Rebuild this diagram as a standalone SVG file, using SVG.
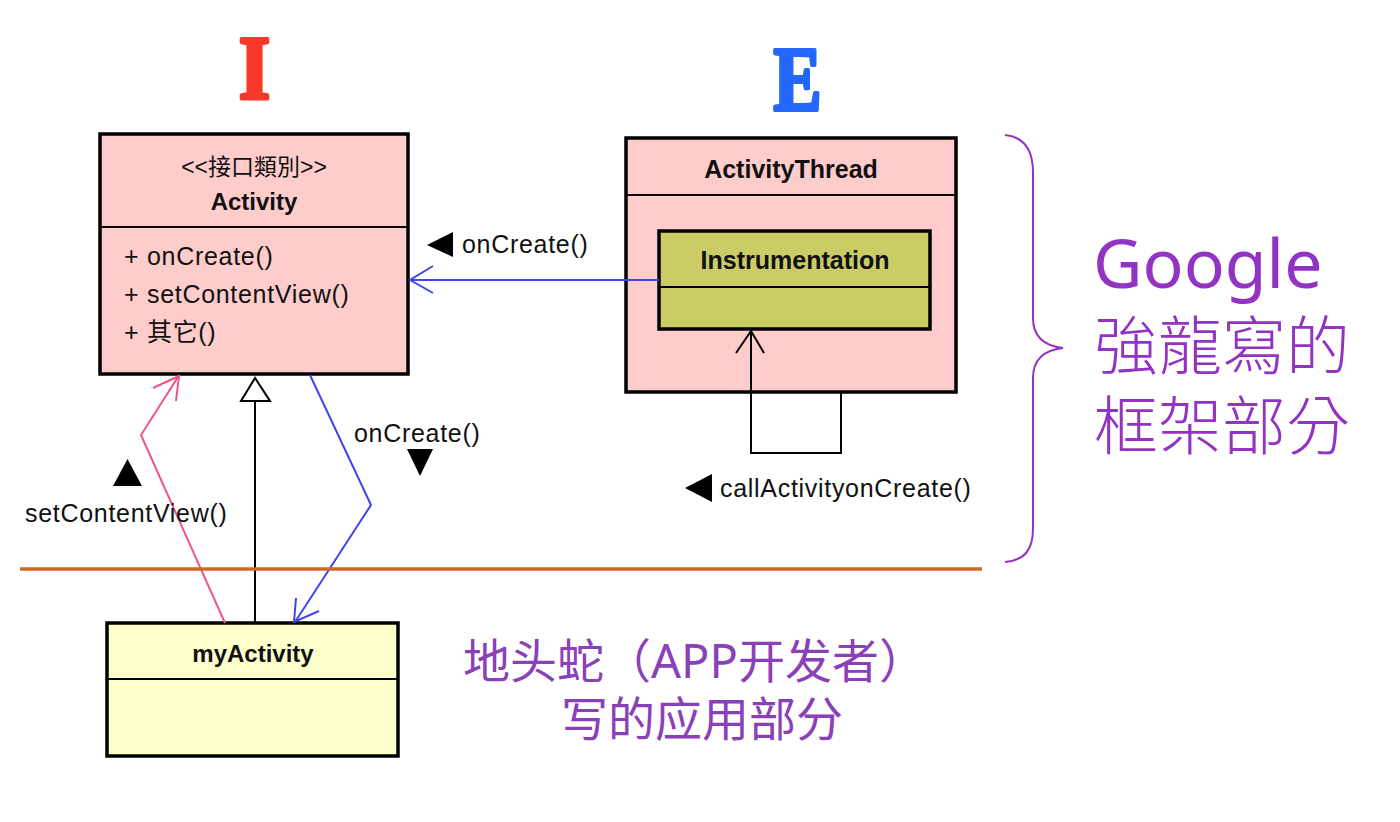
<svg xmlns="http://www.w3.org/2000/svg" width="1400" height="822" viewBox="0 0 1400 822">
<style>
.box{stroke:#000;stroke-width:3.5}
.div{stroke:#000;stroke-width:2}
.t{font-family:"Liberation Sans",Arial,"Noto Sans CJK TC",sans-serif;font-size:25px;letter-spacing:0.7px;fill:#111}
.b{font-family:"Liberation Sans",Arial,sans-serif;font-size:24px;font-weight:bold;fill:#111;text-anchor:middle}
.purple{font-family:"Noto Sans","Noto Sans CJK TC",sans-serif;fill:#9233C4;font-weight:300}
.purple2{font-family:"Noto Sans","Noto Sans CJK SC",sans-serif;fill:#8A40B8}
.big{font-family:"Liberation Serif",serif;font-weight:bold;font-size:90px;stroke-width:4;stroke-linejoin:round}
</style>

<g id="label-I"><text class="big" transform="translate(254.5,99) scale(0.9,1)" x="0" y="0" text-anchor="middle" fill="#F8392A" stroke="#F8392A">I</text></g>
<g id="label-E"><text class="big" transform="translate(797.5,110) scale(0.8,1)" x="0" y="0" text-anchor="middle" fill="#2467FA" stroke="#2467FA">E</text></g>

<g id="activity">
<rect class="box" x="100" y="134" width="308" height="240" fill="#FFCCCC"/>
<line class="div" x1="100" y1="227" x2="408" y2="227"/>
<text class="t" x="254" y="175" text-anchor="middle" style="font-size:23px;letter-spacing:0">&lt;&lt;接口類別&gt;&gt;</text>
<text class="b" x="254" y="210">Activity</text>
<text class="t" x="124" y="265">+ onCreate()</text>
<text class="t" x="124" y="303">+ setContentView()</text>
<text class="t" x="124" y="341">+ 其它()</text>
</g>

<g id="activitythread">
<rect class="box" x="626" y="138" width="330" height="254" fill="#FFCCCC"/>
<line class="div" x1="626" y1="195" x2="956" y2="195"/>
<text class="b" x="791" y="178" style="font-size:25px">ActivityThread</text>
</g>

<g id="instrumentation">
<rect class="box" x="659" y="231" width="271" height="98" fill="#CCCC66"/>
<line class="div" x1="659" y1="287" x2="930" y2="287"/>
<text class="b" x="795" y="269" style="font-size:25px">Instrumentation</text>
</g>

<g id="myactivity">
<rect class="box" x="107" y="623" width="291" height="133" fill="#FFFFCC"/>
<line class="div" x1="107" y1="679" x2="398" y2="679"/>
<text class="b" x="253" y="662">myActivity</text>
</g>

<g id="connectors" fill="none">
<line x1="659" y1="280" x2="410" y2="280" stroke="#4444EE" stroke-width="2"/>
<polyline points="433,266 410,280 433,293" stroke="#4444EE" stroke-width="2"/>
<polyline points="751,333 751,453 841,453 841,392" stroke="#000" stroke-width="2"/>
<polyline points="736,353 751,331 764,353" stroke="#000" stroke-width="2"/>
<polyline points="225,623 141,435 178,377" stroke="#F0557F" stroke-width="2"/>
<polyline points="153,388 179,376 176,401" stroke="#F0557F" stroke-width="2"/>
<line x1="255" y1="623" x2="255" y2="401" stroke="#000" stroke-width="2"/>
<polygon points="255,378 241,401 270,401" fill="#fff" stroke="#000" stroke-width="2"/>
<polyline points="310,375 371,505 295,622" stroke="#4444EE" stroke-width="2"/>
<polyline points="296,598 294,622 319,611" stroke="#4444EE" stroke-width="2"/>
<line x1="20" y1="569" x2="982" y2="569" stroke="#CC6A28" stroke-width="3.5"/>
</g>

<g id="labels">
<polygon points="427,245 453,232 453,257" fill="#000"/>
<text class="t" x="462" y="253">onCreate()</text>
<text class="t" x="354" y="442">onCreate()</text>
<polygon points="407,449 433,449 420,476" fill="#000"/>
<polygon points="113,486 142,486 127.5,459" fill="#000"/>
<text class="t" x="25" y="522">setContentView()</text>
<polygon points="685,488 712,474 712,502" fill="#000"/>
<text class="t" x="720" y="497">callActivityonCreate()</text>
</g>

<g id="brace">
<path d="M1005,135 C1025,137 1033,150 1033,172 L1033,318 C1033,338 1045,346 1063,348 C1045,350 1033,358 1033,378 L1033,528 C1033,550 1025,560 1005,562" fill="none" stroke="#9233C4" stroke-width="2"/>
</g>

<g id="google-text">
<text class="purple" x="1093" y="288" style="font-size:68px;font-weight:400">Google</text>
<text class="purple" x="1094" y="369" style="font-size:64px">強龍寫的</text>
<text class="purple" x="1094" y="449" style="font-size:64px">框架部分</text>
</g>

<g id="app-text">
<text class="purple2" x="463" y="678" style="font-size:47px">地头蛇（APP开发者）</text>
<text class="purple2" x="561" y="736" style="font-size:47px">写的应用部分</text>
</g>
</svg>
